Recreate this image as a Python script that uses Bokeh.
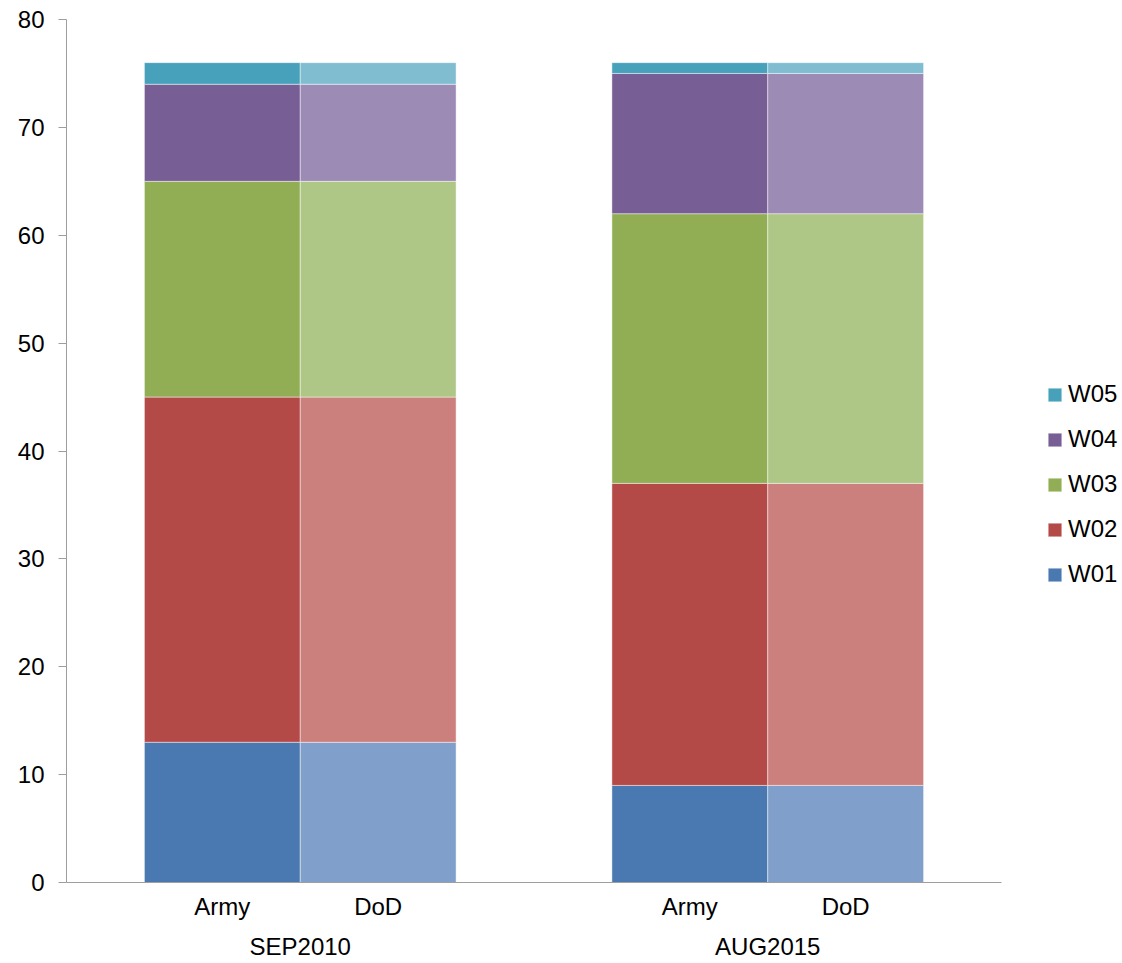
from bokeh.plotting import figure
from bokeh.models import FactorRange, Legend, LegendItem, Range1d, ColumnDataSource
from bokeh.embed import file_html
from bokeh.resources import INLINE

groups = ["SEP2010", "AUG2015"]
orgs = ["Army", "DoD"]
series = ["W01", "W02", "W03", "W04", "W05"]
# values per group (Army and DoD identical in the picture)
W01 = [13, 9]
W02 = [32, 28]
W03 = [20, 25]
W04 = [9, 13]
W05 = [2, 1]
values = {"W01": W01, "W02": W02, "W03": W03, "W04": W04, "W05": W05}

army_colors = {"W01": "#4A78B0", "W02": "#B34A48", "W03": "#92AE55", "W04": "#775E94", "W05": "#47A1BA"}
dod_colors = {"W01": "#809FCA", "W02": "#CC807E", "W03": "#AFC786", "W04": "#9C8BB4", "W05": "#80BDD1"}

factors = [(g, o) for g in groups for o in orgs]
x_range = FactorRange(*factors, factor_padding=0, group_padding=1,
                      range_padding=0.5, range_padding_units="absolute")

FONT = "Liberation Sans"
p = figure(x_range=x_range, y_range=Range1d(0, 80),
           frame_width=935, frame_height=863,
           min_border_left=66, min_border_top=19, min_border_right=0,
           output_backend="svg", toolbar_location=None)
p.outline_line_color = None
p.xgrid.grid_line_color = None
p.ygrid.grid_line_color = None

axis_col = "#9E9E9E"
p.yaxis.ticker = list(range(0, 81, 10))
p.yaxis.axis_line_color = axis_col
p.yaxis.major_tick_line_color = axis_col
p.yaxis.major_tick_out = 8
p.yaxis.major_tick_in = 0
p.yaxis.minor_tick_line_color = None
p.yaxis.major_label_standoff = 14
p.yaxis.major_label_text_font = FONT
p.yaxis.major_label_text_font_size = "24px"
p.yaxis.major_label_text_color = "#000000"

p.xaxis.axis_line_color = axis_col
p.xaxis.major_tick_line_color = None
p.xaxis.minor_tick_line_color = None
p.xaxis.major_tick_out = 0
p.xaxis.major_label_standoff = 10
p.xaxis.major_label_text_font = FONT
p.xaxis.major_label_text_font_size = "24px"
p.xaxis.major_label_text_line_height = 1.45
p.xaxis.major_label_text_color = "#000000"
p.xaxis.group_text_font = FONT
p.xaxis.group_text_font_size = "24px"
p.xaxis.group_text_font_style = "normal"
p.xaxis.group_text_color = "#000000"
p.xaxis.separator_line_color = None

legend_renderers = {}
for org in orgs:
    cols = army_colors if org == "Army" else dod_colors
    bottoms = [0] * len(groups)
    for s in series:
        tops = [b + v for b, v in zip(bottoms, values[s])]
        src = ColumnDataSource(dict(x=[(g, org) for g in groups], bottom=bottoms, top=tops))
        r = p.vbar(x="x", bottom="bottom", top="top", width=1, source=src,
                   fill_color=cols[s], line_color="white", line_alpha=0.45, line_width=1)
        if org == "Army":
            legend_renderers[s] = r
        bottoms = tops

items = [LegendItem(label=s, renderers=[legend_renderers[s]]) for s in reversed(series)]
legend = Legend(items=items, location=(45, 294), padding=0, margin=0,
                border_line_color=None, background_fill_alpha=0,
                glyph_width=17, glyph_height=17, label_height=22, spacing=17,
                label_standoff=5, label_text_font=FONT, label_text_font_size="24px",
                label_text_color="#000000")
p.add_layout(legend, "right")

open("out.html", "w").write(file_html(p, INLINE))
